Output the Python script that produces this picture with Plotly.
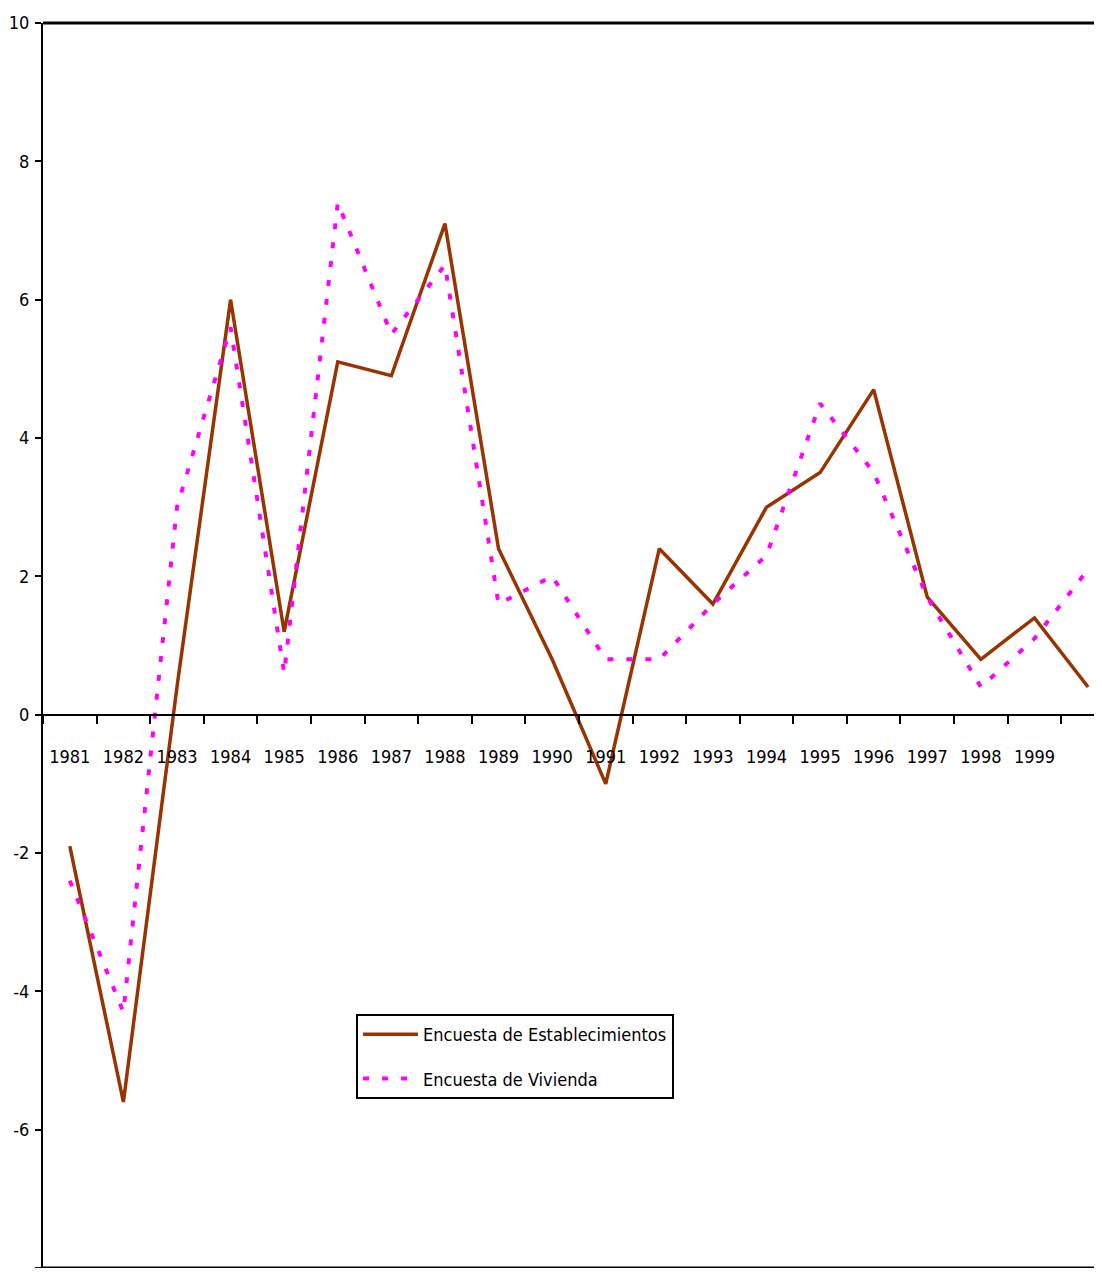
import plotly.graph_objects as go

years = ["1981", "1982", "1983", "1984", "1985", "1986", "1987", "1988", "1989", "1990",
         "1991", "1992", "1993", "1994", "1995", "1996", "1997", "1998", "1999", "2000"]
tick_labels = ["1981", "1982", "1983", "1984", "1985", "1986", "1987", "1988", "1989", "1990",
               "1991", "1992", "1993", "1994", "1995", "1996", "1997", "1998", "1999", ""]
establecimientos = [-1.9, -5.6, 0.4, 6.0, 1.2, 5.1, 4.9, 7.1, 2.4, 0.8,
                    -1.0, 2.4, 1.6, 3.0, 3.5, 4.7, 1.7, 0.8, 1.4, 0.4]
vivienda = [-2.4, -4.3, 3.0, 5.6, 0.6, 7.4, 5.5, 6.5, 1.6, 2.0,
            0.8, 0.8, 1.6, 2.3, 4.5, 3.5, 1.7, 0.4, 1.1, 2.1]
y_ticks = [-8, -6, -4, -2, 0, 2, 4, 6, 8, 10]
y_tick_labels = ["-8", "-6", "-4", "-2", "0", "2", "4", "6", "8", "10"]

FONT = "DejaVu Sans Condensed, Liberation Sans Narrow, Liberation Sans, sans-serif"

fig = go.Figure()
fig.add_trace(go.Scatter(
    x=years, y=establecimientos, mode="lines",
    name="Encuesta de Establecimientos", legendgroup="a",
    line=dict(color="#993300", width=3.5),
))
fig.add_trace(go.Scatter(
    x=years, y=vivienda, mode="lines",
    name="Encuesta de Vivienda", legendgroup="b",
    line=dict(color="#FF00FF", width=4, dash="6px,13px"),
))

# the page body adds an 8px margin, so the figure is sized to fit the window
fig.update_layout(
    width=1094, height=1260,
    margin=dict(l=35, r=0, t=15, b=0),
    paper_bgcolor="white", plot_bgcolor="white",
    font=dict(family=FONT, color="black", size=18),
    showlegend=True,
    legend=dict(
        x=0.2956, y=0.204, xanchor="left", yanchor="top",
        bgcolor="white", bordercolor="black", borderwidth=2,
        font=dict(family=FONT, size=18, color="black"),
        itemwidth=55, tracegroupgap=18,
        entrywidth=320, entrywidthmode="pixels",
    ),
    xaxis=dict(
        type="category",
        range=[-0.5, 19.26],
        tickmode="array", tickvals=years, ticktext=tick_labels,
        tickson="boundaries", ticks="outside", ticklen=8, tickwidth=2, tickcolor="black",
        showline=True, linecolor="black", linewidth=2,
        showgrid=False, zeroline=False,
        anchor="free", position=8 / 18,
        ticklabelstandoff=26, tickangle=0, automargin=False,
        tickfont=dict(family=FONT, size=18, color="black"),
    ),
    yaxis=dict(
        range=[-8, 10],
        tickmode="array", tickvals=y_ticks, ticktext=y_tick_labels,
        ticks="outside", ticklen=6, tickwidth=2, tickcolor="black",
        showline=True, linecolor="black", linewidth=2,
        showgrid=False, zeroline=False, automargin=False,
        ticklabelstandoff=2,
        tickfont=dict(family=FONT, size=18, color="black"),
    ),
    shapes=[
        dict(type="line", xref="paper", yref="paper", x0=0, x1=1, y0=1, y1=1,
             line=dict(color="black", width=3)),
        dict(type="line", xref="paper", yref="paper", x0=0, x1=1, y0=0, y1=0,
             line=dict(color="black", width=3)),
    ],
)

fig.write_html("out.html")
